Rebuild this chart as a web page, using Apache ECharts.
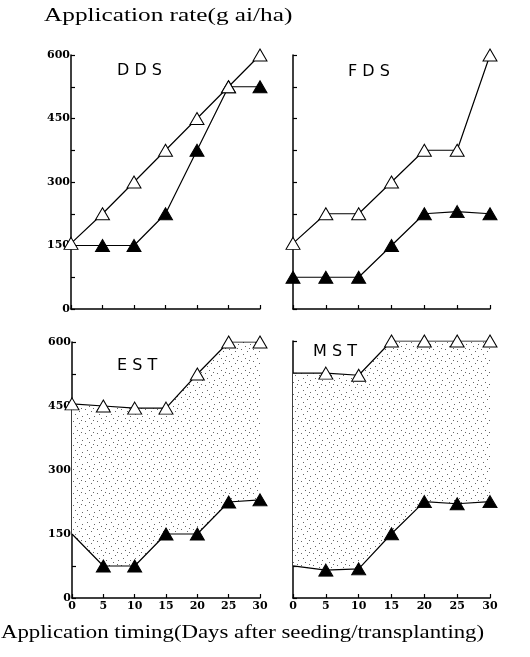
<!DOCTYPE html>
<html><head><meta charset="utf-8">
<script src="https://cdn.jsdelivr.net/npm/echarts@6/dist/echarts.min.js"></script>
<style>html,body{margin:0;padding:0;background:#fff}#c{width:530px;height:657px}</style>
</head><body><div id="c"></div>
<script>
const days = ['0', '5', '10', '15', '20', '25', '30'];
const yTicks = [0, 150, 300, 450, 600];
const panels = ['DDS', 'FDS', 'EST', 'MST'];
const ddsUpper = [155, 225, 300, 375, 450, 525, 600];
const ddsLower = [150, 150, 150, 225, 375, 525, 525];
const fdsUpper = [155, 225, 225, 300, 375, 375, 600];
const fdsLower = [75, 75, 75, 150, 225, 230, 225];
const estUpper = [455, 450, 445, 445, 525, 600, 600];
const estLower = [150, 75, 75, 150, 150, 225, 230];
const mstUpper = [525, 525, 520, 600, 600, 600, 600];
const mstLower = [75, 65, 68, 150, 225, 220, 225];
const yLabel = 'Application rate(g ai/ha)';
const xLabel = 'Application timing(Days after seeding/transplanting)';

const uppers = [ddsUpper, fdsUpper, estUpper, mstUpper];
const lowers = [ddsLower, fdsLower, estLower, mstLower];
// layout / style settings
const grids = [
  {left: 71, top: 55, width: 189, height: 254},
  {left: 293, top: 55, width: 197, height: 254},
  {left: 72, top: 342, width: 188, height: 256},
  {left: 293, top: 341, width: 197, height: 257}
];
const shaded = [false, false, true, true];
const hideFirstUpper = [false, false, false, true];
const hideFirstLower = [true, false, true, true];
const labelPos = [[117, 63], [348, 64], [117, 358], [313, 344]];

const pc = document.createElement('canvas');
pc.width = 12; pc.height = 12;
const g = pc.getContext('2d');
g.fillStyle = '#fff'; g.fillRect(0, 0, 12, 12);
g.fillStyle = '#666';
[[1, 1], [7, 3], [3, 6], [10, 8], [5, 10], [9, 0]].forEach(p => g.fillRect(p[0], p[1], 1, 1));
const pattern = {image: pc, repeat: 'repeat'};

const font = 'DejaVu Serif';
const grid = [], xAxis = [], yAxis = [], series = [], graphic = [];
for (let i = 0; i < 4; i++) {
  grid.push(Object.assign({containLabel: false}, grids[i]));
  const bottom = i >= 2;
  xAxis.push({
    type: 'category', gridIndex: i, data: days, boundaryGap: false,
    axisLine: {show: true, lineStyle: {color: '#000', width: 1.5}},
    axisTick: {show: true, inside: true, length: 4, lineStyle: {color: '#000', width: 1.2}},
    axisLabel: {show: bottom, interval: 0, color: '#000', fontFamily: font, fontWeight: 'bold', fontSize: 11, margin: 3},
    splitLine: {show: false}
  });
  const left = i % 2 === 0;
  yAxis.push({
    type: 'value', gridIndex: i, min: 0, max: 600, interval: 150,
    axisLine: {show: true, lineStyle: {color: '#000', width: 1.5}},
    axisTick: {show: true, inside: true, length: 4, lineStyle: {color: '#000', width: 1.2}},
    minorTick: {show: true, splitNumber: 2, length: 4, lineStyle: {color: '#000', width: 1.2}},
    axisLabel: {show: left, color: '#000', fontFamily: font, fontWeight: 'bold', fontSize: 11, margin: 1},
    splitLine: {show: false}
  });
  const up = uppers[i], lo = lowers[i];
  const mk = (arr, hideFirst) => arr.map((v, k) => (k === 0 && hideFirst) ? {value: v, symbol: 'none'} : v);
  if (shaded[i]) {
    series.push({
      type: 'line', xAxisIndex: i, yAxisIndex: i, stack: 'band' + i, z: 1, silent: true,
      data: lo.slice(), symbol: 'none', showSymbol: false,
      lineStyle: {opacity: 0, width: 0}, animation: false
    });
    series.push({
      type: 'line', xAxisIndex: i, yAxisIndex: i, stack: 'band' + i, z: 1, silent: true,
      data: up.map((v, k) => v - lo[k]), symbol: 'none', showSymbol: false,
      lineStyle: {opacity: 0, width: 0}, areaStyle: {color: pattern, opacity: 1}, animation: false
    });
  }
  series.push({
    type: 'line', xAxisIndex: i, yAxisIndex: i, z: 3,
    data: mk(lo, hideFirstLower[i]), symbol: 'triangle', symbolSize: [14, 12], showAllSymbol: true,
    itemStyle: {color: '#000', borderColor: '#000', borderWidth: 1},
    lineStyle: {color: '#000', width: 1.2}, animation: false
  });
  series.push({
    type: 'line', xAxisIndex: i, yAxisIndex: i, z: 4,
    data: mk(up, hideFirstUpper[i]), symbol: 'triangle', symbolSize: [14, 12], showAllSymbol: true,
    itemStyle: {color: '#fff', borderColor: '#000', borderWidth: 1},
    lineStyle: {color: '#000', width: 1.2}, animation: false
  });
  graphic.push({type: 'text', left: labelPos[i][0], top: labelPos[i][1],
    style: {text: panels[i].split('').join(' '), font: '16px "DejaVu Sans"', fill: '#000'}});
}
graphic.push({type: 'text', x: 44, y: 7, scaleX: 1.33,
  style: {text: yLabel, font: '19px "Liberation Serif"', fill: '#000'}});
graphic.push({type: 'text', x: 1, y: 624, scaleX: 1.2,
  style: {text: xLabel, font: '19px "Liberation Serif"', fill: '#000'}});

const chart = echarts.init(document.getElementById('c'), null, {renderer: 'canvas'});
chart.setOption({backgroundColor: '#fff', animation: false, grid, xAxis, yAxis, series, graphic});
</script></body></html>
